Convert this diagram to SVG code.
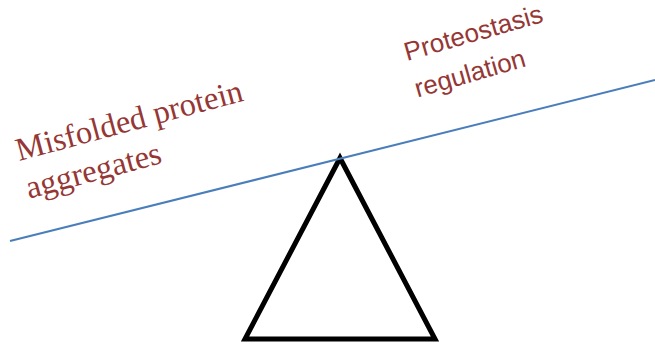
<svg xmlns="http://www.w3.org/2000/svg" width="655" height="345" viewBox="0 0 655 345">
<style>
.lbl{fill:#953735}
.serif{font-family:"Liberation Serif","Times New Roman",serif;font-size:32.5px}
.sans{font-family:"Liberation Sans",Arial,sans-serif;font-size:26px}
</style>
<rect width="655" height="345" fill="#ffffff"/>
<g id="fulcrum">
<polygon points="340,158 245,339 435,339" fill="none" stroke="#000000" stroke-width="5" stroke-linejoin="miter"/>
</g>
<g id="beam">
<line x1="10" y1="241" x2="655" y2="80" stroke="#4a7ebb" stroke-width="2"/>
</g>
<g id="left-label" class="lbl serif" transform="translate(19,161) rotate(-15)">
<text x="0" y="0">Misfolded protein</text>
<text x="0" y="39">aggregates</text>
</g>
<g id="right-label" class="lbl sans" transform="translate(407,61) rotate(-16)">
<text x="0" y="0">Proteostasis</text>
<text x="0" y="38">regulation</text>
</g>
</svg>
